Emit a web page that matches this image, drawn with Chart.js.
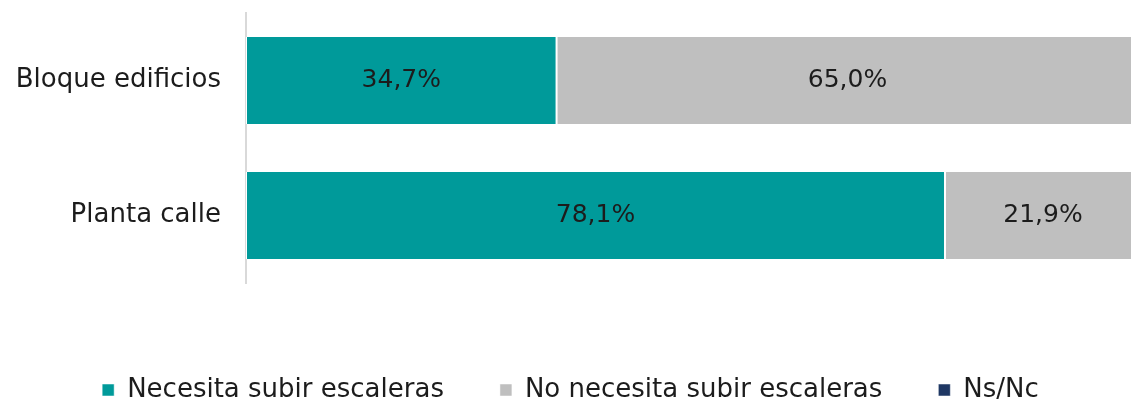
<!DOCTYPE html>
<html>
<head>
<meta charset="utf-8">
<script src="https://cdn.jsdelivr.net/npm/chart.js@4"></script>
<style>
  html, body { margin: 0; padding: 0; background: #fff; overflow: hidden; }
  #wrap { width: 1141px; height: 403px; position: relative; }
  canvas { display: block; }
</style>
</head>
<body>
<div id="wrap"><canvas id="c" width="1141" height="403"></canvas></div>
<script>
const categories = ['Bloque edificios', 'Planta calle'];
const necesita = [34.7, 78.1];
const noNecesita = [65.0, 21.9];
const nsnc = [0.3, 0.0];
const seriesNames = ['Necesita subir escaleras', 'No necesita subir escaleras', 'Ns/Nc'];
const seriesColors = ['#009A9A', '#BFBFBF', '#1F3864'];
const FONT = "'DejaVu Sans', sans-serif";
const TEXT = '#1c1c1c';

// Percentage labels written in the middle of each visible segment
const segmentLabels = {
  id: 'segmentLabels',
  afterDatasetsDraw(chart) {
    const ctx = chart.ctx;
    ctx.save();
    ctx.font = '25px ' + FONT;
    ctx.fillStyle = TEXT;
    ctx.textAlign = 'center';
    ctx.textBaseline = 'middle';
    chart.data.datasets.forEach((ds, i) => {
      if (ds.showLabels === false) return;
      const meta = chart.getDatasetMeta(i);
      meta.data.forEach((bar, j) => {
        const v = ds.data[j];
        if (!v) return;
        const p = bar.getProps(['x', 'base', 'y'], true);
        const cx = (p.x + p.base) / 2;
        ctx.fillText(v.toFixed(1).replace('.', ',') + '%', cx, p.y);
      });
    });
    ctx.restore();
  }
};

new Chart(document.getElementById('c'), {
  type: 'bar',
  data: {
    labels: categories,
    datasets: [
      { label: seriesNames[0], data: necesita, backgroundColor: seriesColors[0] },
      { label: seriesNames[1], data: noNecesita, backgroundColor: seriesColors[1] },
      { label: seriesNames[2], data: nsnc, backgroundColor: seriesColors[2], showLabels: false }
    ].map(d => Object.assign(d, {
      borderColor: '#ffffff',
      borderWidth: { left: 1, right: 1, top: 0, bottom: 0 },
      borderSkipped: false,
      barPercentage: 0.645,
      categoryPercentage: 1.0
    }))
  },
  options: {
    indexAxis: 'y',
    responsive: false,
    animation: false,
    devicePixelRatio: 1,
    layout: { padding: { top: 13, right: 0, left: 0, bottom: -10 } },
    scales: {
      x: {
        stacked: true,
        min: 0,
        max: 100,
        display: true,
        afterFit(scale) { scale.height = 38; },
        grid: { display: false, drawTicks: false },
        border: { display: false },
        ticks: { display: false }
      },
      y: {
        stacked: true,
        afterFit(scale) {
          scale.width = 246;
          scale.paddingTop = 0;
          scale.paddingBottom = 0;
        },
        grid: { display: false, drawTicks: false },
        border: { display: true, color: '#d9d9d9', width: 2 },
        ticks: {
          color: TEXT,
          padding: 25,
          font: { family: FONT, size: 26 }
        }
      }
    },
    plugins: {
      legend: {
        position: 'bottom',
        labels: {
          color: TEXT,
          font: { family: FONT, size: 26 },
          boxWidth: 12,
          boxHeight: 12,
          padding: 56
        }
      },
      tooltip: { enabled: false }
    }
  },
  plugins: [segmentLabels]
});
</script>
</body>
</html>
